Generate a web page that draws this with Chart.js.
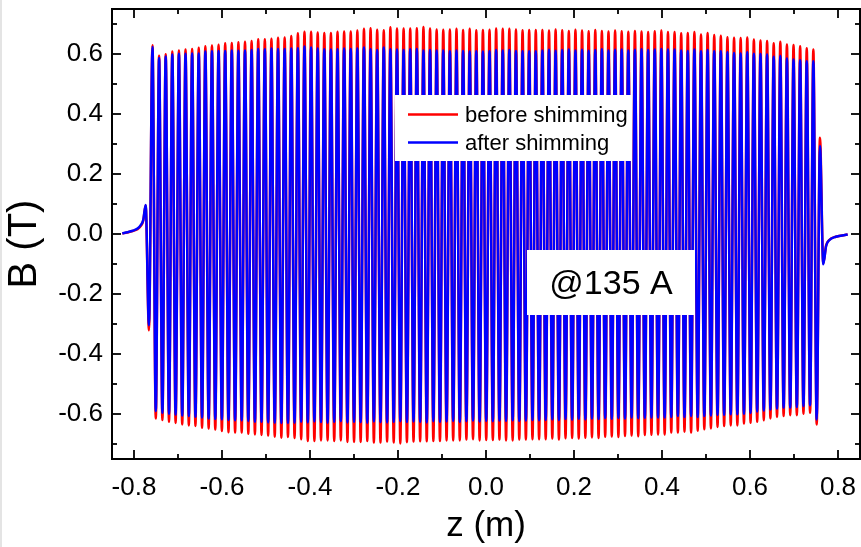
<!DOCTYPE html>
<html>
<head>
<meta charset="utf-8">
<script src="https://cdn.jsdelivr.net/npm/chart.js@4.4.1/dist/chart.umd.min.js"></script>
<style>
  html, body { margin: 0; padding: 0; background: #fff; }
  canvas { display: block; }
</style>
</head>
<body>
<canvas id="c" width="861" height="547"></canvas>
<script>
// Axis ticks
const zTicks = [-0.8, -0.6, -0.4, -0.2, 0.0, 0.2, 0.4, 0.6, 0.8];
const zMinorTicks = [-0.7, -0.5, -0.3, -0.1, 0.1, 0.3, 0.5, 0.7];
const bTicks = [-0.6, -0.4, -0.2, 0.0, 0.2, 0.4, 0.6];
const bMinorTicks = [-0.7, -0.5, -0.3, -0.1, 0.1, 0.3, 0.5, 0.7];

const seriesNames = ['before shimming', 'after shimming'];
const seriesColors = ['#ff0000', '#0000ff'];
const currentLabel = '@135 A';
const yTitle = 'B (T)';

// Undulator pole layout: first full pole and half-period spacing (m)
const firstPoleZ = -0.758;
const halfPeriodZ = 0.00751;

// Fringe field at the entrance (includes the entrance end pole)
const leftTailZ      = [-0.8266, -0.815, -0.803, -0.792, -0.784, -0.779, -0.7735, -0.766];
const leftTailBefore = [0.002, 0.005, 0.010, 0.016, 0.028, 0.044, 0.095, -0.321];
const leftTailAfter  = [0.002, 0.006, 0.011, 0.018, 0.031, 0.047, 0.097, -0.304];

// Fringe field at the exit (includes the exit end pole)
const rightTailZ      = [0.759, 0.7665, 0.773, 0.780, 0.795, 0.822];
const rightTailBefore = [0.321, -0.098, -0.038, -0.020, -0.009, -0.002];
const rightTailAfter  = [0.293, -0.101, -0.040, -0.021, -0.009, -0.002];

// Peak field of each full pole (T), before shimming
const beforePos = [
  0.629, 0.594, 0.599, 0.608, 0.612, 0.615, 0.617, 0.621, 0.626, 0.628, 0.631, 0.636, 0.637, 0.639, 0.641, 0.643, 0.649, 0.649, 0.651, 0.654, 0.655, 0.660,
  0.669, 0.674, 0.674, 0.672, 0.670, 0.670, 0.674, 0.675, 0.675, 0.678, 0.684, 0.686, 0.681, 0.679, 0.689, 0.685, 0.685, 0.685, 0.686, 0.690, 0.685,
  0.682, 0.681, 0.682, 0.684, 0.680, 0.684, 0.679, 0.680, 0.681, 0.685, 0.684, 0.684, 0.682, 0.679, 0.680, 0.680,
  0.680, 0.678, 0.682, 0.679, 0.677, 0.681, 0.678, 0.676, 0.680, 0.677, 0.675, 0.678, 0.676, 0.674, 0.677, 0.675, 0.673, 0.676,
  0.678, 0.673, 0.673, 0.669, 0.670, 0.673, 0.665, 0.670, 0.663, 0.661, 0.656, 0.654, 0.653, 0.655, 0.648, 0.645, 0.643, 0.636, 0.641, 0.632, 0.630, 0.626, 0.619, 0.615
];
const beforeNeg = [
  -0.615, -0.620, -0.626, -0.630, -0.635, -0.638, -0.640, -0.646, -0.648, -0.652, -0.657, -0.661, -0.662, -0.662, -0.666, -0.668, -0.670, -0.672, -0.676, -0.679, -0.677, -0.680,
  -0.684, -0.690, -0.690, -0.688, -0.688, -0.690, -0.688, -0.693, -0.693, -0.693, -0.690, -0.695, -0.695, -0.692, -0.695, -0.698, -0.694, -0.692,
  -0.691, -0.691, -0.690, -0.690, -0.688, -0.688, -0.688, -0.685, -0.684, -0.688, -0.687, -0.687, -0.685, -0.688, -0.688, -0.685, -0.685, -0.684, -0.684,
  -0.684, -0.682, -0.685, -0.681, -0.680, -0.682, -0.679, -0.678, -0.680, -0.676, -0.675, -0.677, -0.673, -0.672, -0.674, -0.670, -0.669,
  -0.668, -0.668, -0.662, -0.662, -0.659, -0.662, -0.656, -0.651, -0.648, -0.643, -0.640, -0.638, -0.638, -0.632, -0.629, -0.626, -0.621, -0.615, -0.610, -0.607, -0.604, -0.604, -0.599, -0.596, -0.635
];

// Peak field of each full pole (T), after shimming
const afterPos = [
  0.623, 0.587, 0.592, 0.598, 0.601, 0.601, 0.602, 0.602, 0.608, 0.609, 0.610, 0.610, 0.612, 0.611, 0.612, 0.613, 0.617, 0.616, 0.618, 0.617, 0.617, 0.618,
  0.619, 0.625, 0.622, 0.618, 0.616, 0.615, 0.616, 0.618, 0.617, 0.618, 0.622, 0.616, 0.613, 0.622, 0.616, 0.615, 0.613, 0.616, 0.617, 0.612, 0.613,
  0.612, 0.612, 0.609, 0.612, 0.610, 0.608, 0.609, 0.608, 0.609, 0.613, 0.612, 0.613, 0.610, 0.609, 0.609, 0.609,
  0.612, 0.614, 0.611, 0.613, 0.615, 0.612, 0.614, 0.611, 0.613, 0.616, 0.612, 0.614, 0.615, 0.612, 0.614, 0.616, 0.613, 0.615,
  0.617, 0.615, 0.615, 0.612, 0.610, 0.615, 0.609, 0.613, 0.609, 0.609, 0.606, 0.603, 0.602, 0.606, 0.601, 0.600, 0.598, 0.591, 0.593, 0.585, 0.582, 0.579, 0.576, 0.576
];
const afterNeg = [
  -0.590, -0.596, -0.599, -0.602, -0.605, -0.607, -0.609, -0.612, -0.615, -0.617, -0.618, -0.620, -0.621, -0.621, -0.623, -0.626, -0.626, -0.628, -0.629, -0.630, -0.630, -0.629,
  -0.626, -0.628, -0.625, -0.627, -0.629, -0.626, -0.624, -0.628, -0.626, -0.627, -0.629, -0.625, -0.627, -0.628, -0.626, -0.624, -0.627, -0.625,
  -0.626, -0.628, -0.624, -0.626, -0.625, -0.623, -0.626, -0.624, -0.622, -0.625, -0.623, -0.624, -0.622, -0.623, -0.621, -0.623, -0.622, -0.620, -0.621,
  -0.620, -0.618, -0.620, -0.617, -0.619, -0.616, -0.618, -0.615, -0.617, -0.614, -0.616, -0.613, -0.615, -0.612, -0.614, -0.613, -0.612,
  -0.612, -0.612, -0.610, -0.607, -0.610, -0.607, -0.610, -0.607, -0.605, -0.603, -0.603, -0.601, -0.601, -0.599, -0.596, -0.592, -0.588, -0.585, -0.582, -0.579, -0.579, -0.577, -0.574, -0.571, -0.618
];

// Assemble the on-axis field profile: entrance fringe, alternating poles, exit fringe
function fieldProfile(tailL, pos, neg, tailR) {
  const pts = leftTailZ.map((z, i) => ({ x: z, y: tailL[i] }));
  for (let i = 0; i < pos.length; i++) {
    pts.push({ x: firstPoleZ + 2 * i * halfPeriodZ, y: pos[i] });
    pts.push({ x: firstPoleZ + (2 * i + 1) * halfPeriodZ, y: neg[i] });
  }
  rightTailZ.forEach((z, i) => pts.push({ x: z, y: tailR[i] }));
  return pts;
}

const FONT = "'Liberation Sans', Arial, sans-serif";

// Frame, inward ticks on all four sides, y title, legend and current label
const decorations = {
  id: 'decorations',
  beforeDraw(chart) {
    const ctx = chart.ctx;
    ctx.save();
    ctx.fillStyle = '#e4e4e4';
    ctx.fillRect(0, 0, 2, chart.height);
    ctx.restore();
  },
  afterDraw(chart) {
    const ctx = chart.ctx;
    const { left, right, top, bottom } = chart.chartArea;
    const xs = chart.scales.x, ys = chart.scales.y;
    ctx.save();
    ctx.strokeStyle = '#000';
    ctx.lineWidth = 1.8;
    ctx.lineCap = 'butt';
    const tick = (x1, y1, x2, y2) => { ctx.beginPath(); ctx.moveTo(x1, y1); ctx.lineTo(x2, y2); ctx.stroke(); };
    const major = 9, minor = 5;
    zTicks.forEach(v => { const p = xs.getPixelForValue(v); tick(p, bottom, p, bottom - major); tick(p, top, p, top + major); });
    zMinorTicks.forEach(v => { const p = xs.getPixelForValue(v); tick(p, bottom, p, bottom - minor); tick(p, top, p, top + minor); });
    bTicks.forEach(v => { const p = ys.getPixelForValue(v); tick(left, p, left + major, p); tick(right, p, right - major, p); });
    bMinorTicks.forEach(v => { const p = ys.getPixelForValue(v); tick(left, p, left + minor, p); tick(right, p, right - minor, p); });
    ctx.lineWidth = 2;
    ctx.strokeRect(left, top, right - left, bottom - top);

    // y axis title
    ctx.save();
    ctx.translate(25, (top + bottom) / 2 + 10);
    ctx.rotate(-Math.PI / 2);
    ctx.fillStyle = '#000';
    ctx.font = '40px ' + FONT;
    ctx.textAlign = 'center';
    ctx.textBaseline = 'middle';
    ctx.fillText(yTitle, 0, 0);
    ctx.restore();

    // legend
    ctx.fillStyle = '#fff';
    ctx.fillRect(395, 95, 236, 66);
    ctx.font = '22px ' + FONT;
    ctx.textBaseline = 'middle';
    ctx.textAlign = 'left';
    seriesNames.forEach((name, i) => {
      const y = 114.5 + i * 28;
      ctx.strokeStyle = seriesColors[i];
      ctx.lineWidth = 2.5;
      tick(408, y, 458, y);
      ctx.fillStyle = '#000';
      ctx.fillText(name, 465, y + 1.5);
    });

    // current label
    ctx.fillStyle = '#fff';
    ctx.fillRect(527, 250, 168, 65);
    ctx.fillStyle = '#000';
    ctx.font = '34px ' + FONT;
    ctx.textAlign = 'center';
    ctx.fillText(currentLabel, 611, 285);
    ctx.restore();
  }
};

new Chart(document.getElementById('c'), {
  type: 'line',
  data: {
    datasets: [
      { label: seriesNames[0], data: fieldProfile(leftTailBefore, beforePos, beforeNeg, rightTailBefore),
        borderColor: seriesColors[0], borderWidth: 2.5, order: 2 },
      { label: seriesNames[1], data: fieldProfile(leftTailAfter, afterPos, afterNeg, rightTailAfter),
        borderColor: seriesColors[1], borderWidth: 2.5, order: 1 }
    ]
  },
  options: {
    responsive: false,
    animation: false,
    devicePixelRatio: 1,
    parsing: false,
    normalized: true,
    elements: { point: { radius: 0 }, line: { cubicInterpolationMode: 'monotone', fill: false } },
    layout: { padding: { top: 9, right: 1, left: 0, bottom: 0 } },
    plugins: { legend: { display: false }, tooltip: { enabled: false } },
    scales: {
      x: {
        type: 'linear', min: -0.85, max: 0.85,
        afterFit(s) { s.height = 88; s.paddingLeft = 0; s.paddingRight = 0; },
        afterBuildTicks(s) { s.ticks = zTicks.map(v => ({ value: v })); },
        grid: { display: false, drawTicks: false },
        border: { display: false },
        ticks: { autoSkip: false, maxRotation: 0, padding: 13, color: '#000',
                 font: { family: FONT, size: 26 }, callback: v => v.toFixed(1) },
        title: { display: true, text: 'z (m)', color: '#000', padding: { top: 0, bottom: 0 },
                 font: { family: FONT, size: 35 } }
      },
      y: {
        type: 'linear', min: -0.75, max: 0.75,
        afterFit(s) { s.width = 112; s.paddingTop = 0; s.paddingBottom = 0; },
        afterBuildTicks(s) { s.ticks = bTicks.map(v => ({ value: v })); },
        grid: { display: false, drawTicks: false },
        border: { display: false },
        ticks: { padding: 9, color: '#000', font: { family: FONT, size: 26 }, callback: v => v.toFixed(1) },
        title: { display: false }
      }
    }
  },
  plugins: [decorations]
});
</script>
</body>
</html>
